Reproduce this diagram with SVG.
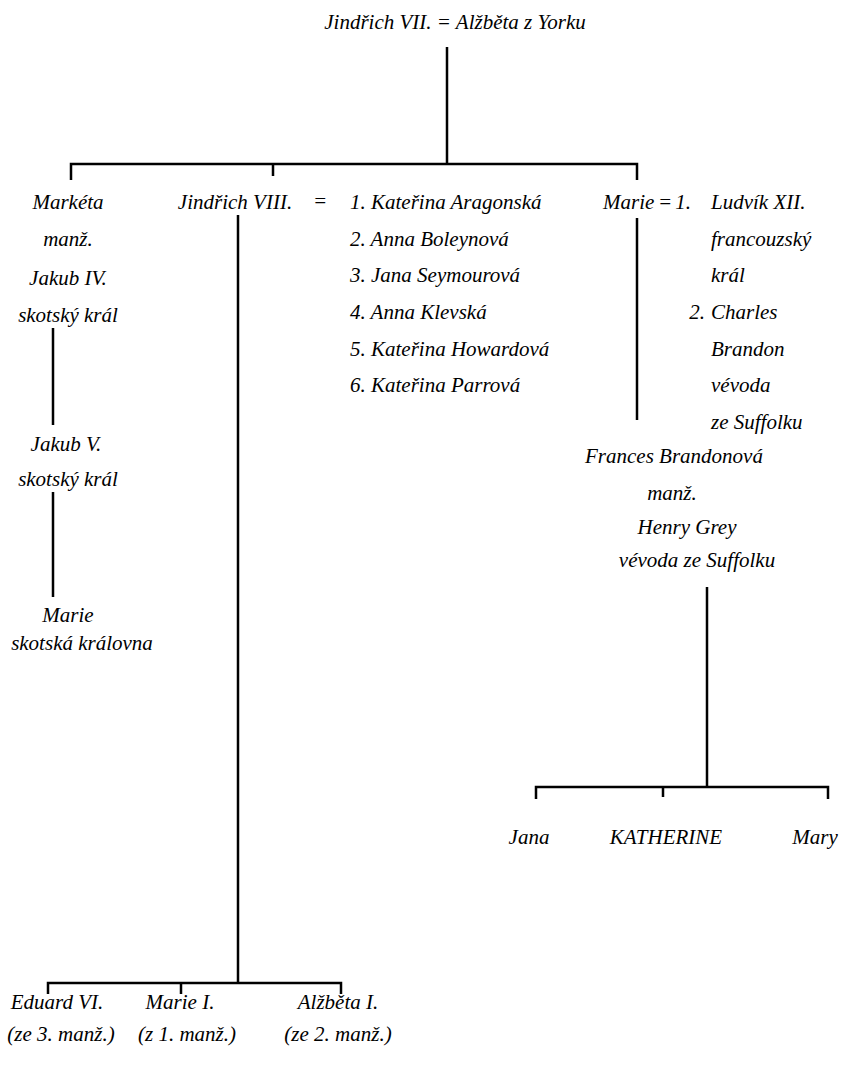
<svg xmlns="http://www.w3.org/2000/svg" width="843" height="1074" viewBox="0 0 843 1074">
<rect width="843" height="1074" fill="#fff"/>
<g id="connectors" stroke="#000" stroke-width="2.5" fill="none">
<path d="M447 47V164M71 180V164H637V180M273 164V176"/>
<path d="M53 328V425M53 492V597"/>
<path d="M238 215V983M48 994V983H341V994M181 983V994"/>
<path d="M637 218V420"/>
<path d="M707 587V787M536 799V787H828V799M663 787V797"/>
</g>
<g id="n-root"><text x="455" y="29" font-family="Times New Roman" font-size="21" font-style="italic" text-anchor="middle">Jindřich VII. = Alžběta z Yorku</text></g>
<g id="n-marketa">
<text x="68" y="209" font-family="Times New Roman" font-size="21" font-style="italic" text-anchor="middle">Markéta</text>
<text x="68" y="246" font-family="Times New Roman" font-size="21" font-style="italic" text-anchor="middle">manž.</text>
<text x="68" y="285" font-family="Times New Roman" font-size="21" font-style="italic" text-anchor="middle">Jakub IV.</text>
<text x="68" y="322" font-family="Times New Roman" font-size="21" font-style="italic" text-anchor="middle">skotský král</text>
</g>
<g id="n-jakub5">
<text x="66" y="451" font-family="Times New Roman" font-size="21" font-style="italic" text-anchor="middle">Jakub V.</text>
<text x="68" y="486" font-family="Times New Roman" font-size="21" font-style="italic" text-anchor="middle">skotský král</text>
</g>
<g id="n-marie-skot">
<text x="68" y="622" font-family="Times New Roman" font-size="21" font-style="italic" text-anchor="middle">Marie</text>
<text x="82" y="650" font-family="Times New Roman" font-size="21" font-style="italic" text-anchor="middle">skotská královna</text>
</g>
<g id="n-jindrich8">
<text x="235" y="209" font-family="Times New Roman" font-size="21" font-style="italic" text-anchor="middle">Jindřich VIII.</text>
<text x="320" y="208" font-family="Times New Roman" font-size="21" font-style="italic" text-anchor="middle">=</text>
<text x="350" y="209" font-family="Times New Roman" font-size="21" font-style="italic">1. Kateřina Aragonská</text>
<text x="350" y="246" font-family="Times New Roman" font-size="21" font-style="italic">2. Anna Boleynová</text>
<text x="350" y="282" font-family="Times New Roman" font-size="21" font-style="italic">3. Jana Seymourová</text>
<text x="350" y="319" font-family="Times New Roman" font-size="21" font-style="italic">4. Anna Klevská</text>
<text x="350" y="356" font-family="Times New Roman" font-size="21" font-style="italic">5. Kateřina Howardová</text>
<text x="350" y="392" font-family="Times New Roman" font-size="21" font-style="italic">6. Kateřina Parrová</text>
</g>
<g id="n-marie">
<text x="603" y="209" font-family="Times New Roman" font-size="21" font-style="italic">Marie</text>
<text x="665" y="209" font-family="Times New Roman" font-size="21" font-style="italic" text-anchor="middle">=</text>
<text x="691" y="209" font-family="Times New Roman" font-size="21" font-style="italic" text-anchor="end">1.</text>
<text x="711" y="209" font-family="Times New Roman" font-size="21" font-style="italic">Ludvík XII.</text>
<text x="711" y="246" font-family="Times New Roman" font-size="21" font-style="italic">francouzský</text>
<text x="711" y="282" font-family="Times New Roman" font-size="21" font-style="italic">král</text>
<text x="705" y="319" font-family="Times New Roman" font-size="21" font-style="italic" text-anchor="end">2.</text>
<text x="711" y="319" font-family="Times New Roman" font-size="21" font-style="italic">Charles</text>
<text x="711" y="356" font-family="Times New Roman" font-size="21" font-style="italic">Brandon</text>
<text x="711" y="392" font-family="Times New Roman" font-size="21" font-style="italic">vévoda</text>
<text x="711" y="429" font-family="Times New Roman" font-size="21" font-style="italic">ze Suffolku</text>
</g>
<g id="n-frances">
<text x="674" y="463" font-family="Times New Roman" font-size="21" font-style="italic" text-anchor="middle">Frances Brandonová</text>
<text x="672" y="500" font-family="Times New Roman" font-size="21" font-style="italic" text-anchor="middle">manž.</text>
<text x="687" y="534" font-family="Times New Roman" font-size="21" font-style="italic" text-anchor="middle">Henry Grey</text>
<text x="697" y="567" font-family="Times New Roman" font-size="21" font-style="italic" text-anchor="middle">vévoda ze Suffolku</text>
</g>
<g id="n-jana"><text x="529" y="844" font-family="Times New Roman" font-size="21" font-style="italic" text-anchor="middle">Jana</text></g>
<g id="n-katherine"><text x="666" y="844" font-family="Times New Roman" font-size="21" font-style="italic" text-anchor="middle">KATHERINE</text></g>
<g id="n-mary"><text x="815" y="844" font-family="Times New Roman" font-size="21" font-style="italic" text-anchor="middle">Mary</text></g>
<g id="n-eduard">
<text x="57" y="1009" font-family="Times New Roman" font-size="21" font-style="italic" text-anchor="middle">Eduard VI.</text>
<text x="61" y="1041" font-family="Times New Roman" font-size="21" font-style="italic" text-anchor="middle">(ze 3. manž.)</text>
</g>
<g id="n-marie1">
<text x="180" y="1009" font-family="Times New Roman" font-size="21" font-style="italic" text-anchor="middle">Marie I.</text>
<text x="187" y="1041" font-family="Times New Roman" font-size="21" font-style="italic" text-anchor="middle">(z 1. manž.)</text>
</g>
<g id="n-alzbeta1">
<text x="338" y="1009" font-family="Times New Roman" font-size="21" font-style="italic" text-anchor="middle">Alžběta I.</text>
<text x="338" y="1041" font-family="Times New Roman" font-size="21" font-style="italic" text-anchor="middle">(ze 2. manž.)</text>
</g>
</svg>
